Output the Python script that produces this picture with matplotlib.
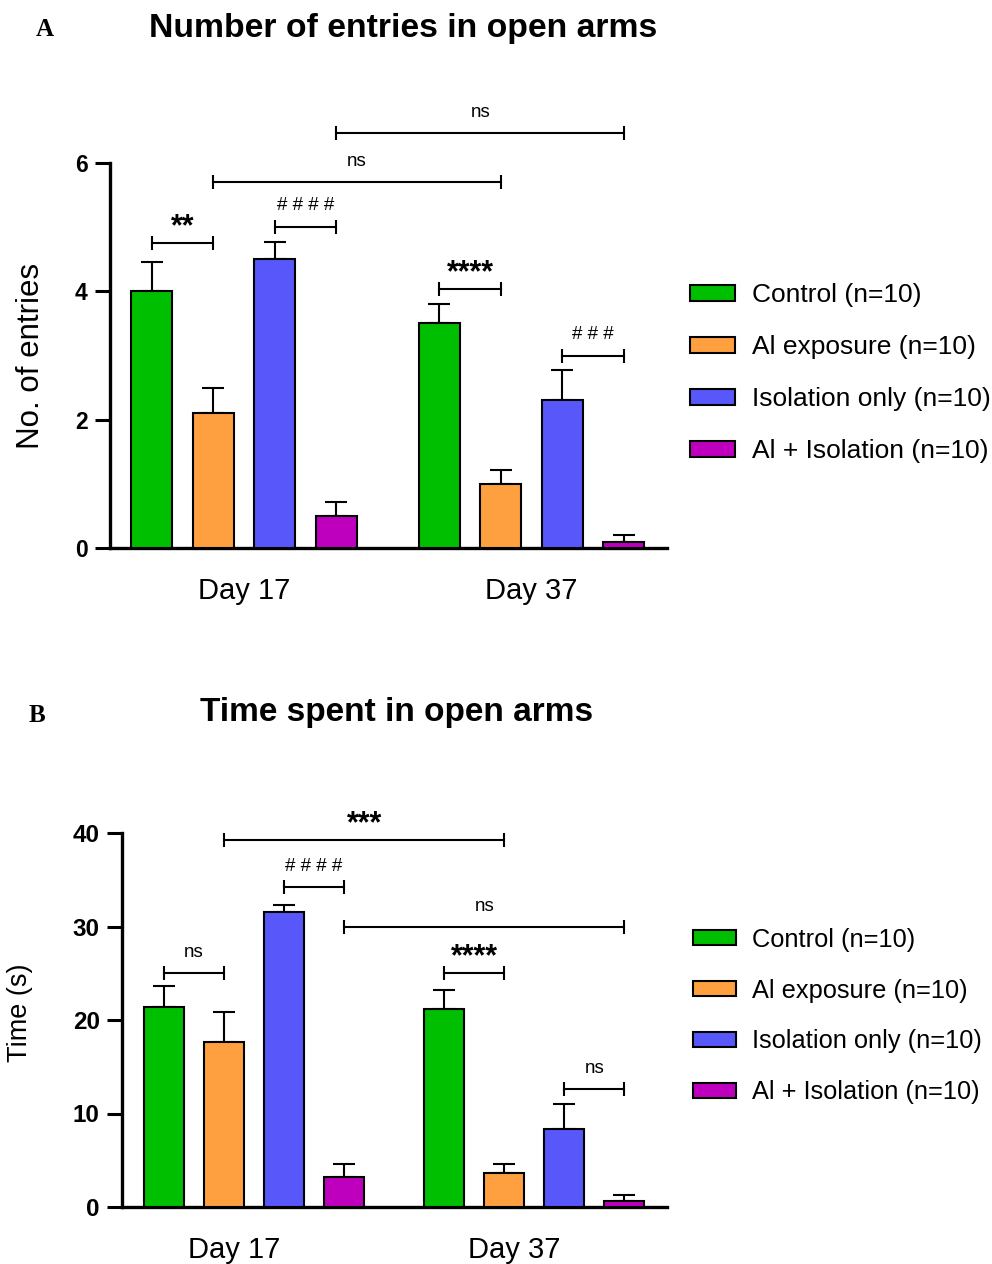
import numpy as np
import matplotlib
matplotlib.use("Agg")
import matplotlib.pyplot as plt
from matplotlib.transforms import ScaledTranslation

plt.rcParams['font.family'] = ['Liberation Sans', 'DejaVu Sans']

# groups and days
groups = ['Control (n=10)', 'Al exposure (n=10)', 'Isolation only (n=10)', 'Al + Isolation (n=10)']
days = ['Day 17', 'Day 37']
colors = ['#00BE00', '#FFA040', '#5757FA', '#BE00BE']

# entries in open arms: mean and SEM per group, Day 17 then Day 37
entries_mean = [[4.0, 3.5], [2.1, 1.0], [4.5, 2.3], [0.5, 0.1]]
entries_sem = [[0.45, 0.3], [0.4, 0.21], [0.27, 0.47], [0.22, 0.1]]

# time spent in open arms (s)
time_mean = [[21.4, 21.2], [17.6, 3.6], [31.6, 8.3], [3.2, 0.6]]
time_sem = [[2.2, 2.0], [3.3, 1.0], [0.7, 2.7], [1.4, 0.7]]

# significance brackets: (bar i, bar j, height, label)
entries_sig = [(0, 1, 4.75, '**'), (2, 3, 5.0, '# # # #'), (1, 5, 5.7, 'ns'),
               (3, 7, 6.46, 'ns'), (4, 5, 4.03, '****'), (6, 7, 3.0, '# # #')]
time_sig = [(0, 1, 25.0, 'ns'), (2, 3, 34.2, '# # # #'), (1, 5, 39.2, '***'),
            (3, 7, 29.9, 'ns'), (4, 5, 25.0, '****'), (6, 7, 12.6, 'ns')]

group_gap = 4.67
width = 0.667


def bar_x(g, d):
    return g + d * group_gap


def draw_panel(ax, means, sems, sig, ticks, ylim, xlim, ylabel, label_xy, label_size, tick_size):
    for g in range(len(groups)):
        xs = [bar_x(g, d) for d in range(len(days))]
        ax.bar(xs, means[g], width=width, color=colors[g], edgecolor='black',
               linewidth=1.5, label=groups[g], zorder=3)
        ax.errorbar(xs, means[g], yerr=[np.zeros(len(days)), sems[g]], fmt='none',
                    ecolor='black', elinewidth=1.5, capsize=8, capthick=1.5, zorder=2)
    for i, j, h, txt in sig:
        x1 = bar_x(i % 4, i // 4)
        x2 = bar_x(j % 4, j // 4)
        ax.plot([x1, x2], [h, h], color='black', lw=1.5, marker='|', markersize=10,
                markeredgewidth=1.5, clip_on=False, zorder=4)
        star = txt.startswith('*')
        ax.annotate(txt, xy=((x1 + x2) / 2, h), xytext=(0, 6 if star else 12),
                    textcoords='offset points', ha='center', va='baseline',
                    fontsize=22 if star else 13.5, fontweight='bold' if star else 'normal',
                    annotation_clip=False)
    ax.set_xlim(*xlim)
    ax.set_ylim(*ylim)
    ax.set_yticks(ticks)
    ax.set_xticks([bar_x(1.5, d) for d in range(len(days))])
    ax.set_xticklabels(days, fontsize=21)
    ax.tick_params(axis='x', length=0, pad=21)
    ax.tick_params(axis='y', length=11, width=2.2, pad=5, labelsize=tick_size)
    for t in ax.get_yticklabels():
        t.set_fontweight('bold')
    for s in ['top', 'right']:
        ax.spines[s].set_visible(False)
    for s in ['left', 'bottom']:
        ax.spines[s].set_linewidth(2.4)
    ax.set_ylabel(ylabel, fontsize=label_size)
    ax.yaxis.set_label_coords(*label_xy)


fig = plt.figure(figsize=(9.92, 12.64), dpi=100)
ax1 = fig.add_axes([110 / 992, 1 - 548 / 1264, 557 / 992, 385 / 1264])
ax2 = fig.add_axes([122 / 992, 1 - 1207 / 1264, 545 / 992, 374 / 1264])

draw_panel(ax1, entries_mean, entries_sem, entries_sig, [0, 2, 4, 6], (0, 6),
           (-0.68, 8.37), 'No. of entries', (-0.115, 0.5), 22.5, 16.5)
draw_panel(ax2, time_mean, time_sem, time_sig, [0, 10, 20, 30, 40], (0, 40),
           (-0.70, 8.38), 'Time (s)', (-0.163, 0.519), 19.5, 17.5)

# day labels in the lower panel sit a little left of the group centres
for lab in ax2.get_xticklabels():
    lab.set_transform(lab.get_transform() + ScaledTranslation(-0.2, 0, fig.dpi_scale_trans))

for ax, x0, yc, fs, sp in [(ax1, 690, 1 - 373 / 1264, 19, 1.06),
                           (ax2, 693, 1 - 1016 / 1264, 18.3, 1.06)]:
    ax.legend(loc='center left', bbox_to_anchor=(x0 / 992, yc), bbox_transform=fig.transFigure,
              frameon=False, fontsize=fs, borderpad=0, borderaxespad=0,
              handlelength=1.7, handleheight=0.55, handletextpad=0.64, labelspacing=sp)

fig.text(403 / 992, 1 - 28 / 1264, 'Number of entries in open arms', ha='center', va='center',
         fontsize=24.3, fontweight='bold')
fig.text(397 / 992, 1 - 712 / 1264, 'Time spent in open arms', ha='center', va='center',
         fontsize=24, fontweight='bold')
fig.text(45 / 992, 1 - 29 / 1264, 'A', ha='center', va='center', fontsize=18,
         fontweight='bold', family='Liberation Serif')
fig.text(37 / 992, 1 - 715 / 1264, 'B', ha='center', va='center', fontsize=18,
         fontweight='bold', family='Liberation Serif')

fig.savefig('out.png', dpi=100)
